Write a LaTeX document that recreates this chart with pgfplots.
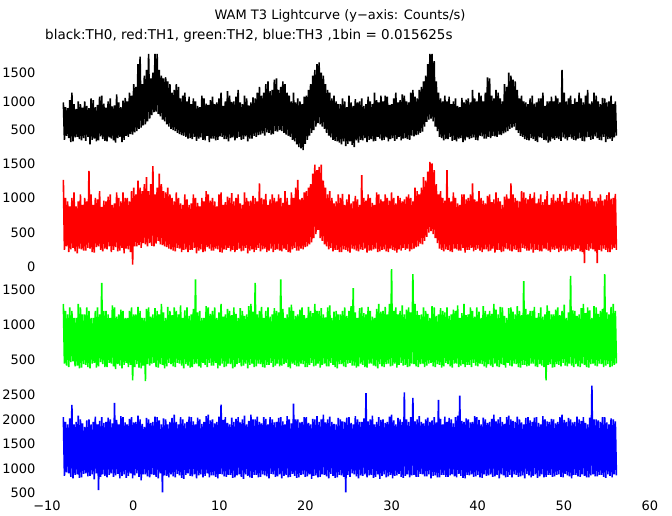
\documentclass[border=0pt]{standalone}
\usepackage{pgfplots}
\pgfplotsset{compat=1.18}
\usepackage{pgfplotstable}
\usepackage{fontspec}
\setmainfont{DejaVu Sans}
\definecolor{pred}{rgb}{1,0,0}
\definecolor{pgreen}{rgb}{0,1,0}
\definecolor{pblue}{rgb}{0,0,1}

% TH0 (black): alternating local maxima / minima, one value every 0.1237 s from -8.1 s
\pgfplotstableread[header=false,row sep=\\]{
980\\330\\900\\400\\880\\360\\1020\\290\\1150\\300\\950\\370\\870\\380\\1000\\340\\950\\320\\890\\360\\
1000\\310\\920\\380\\880\\250\\1050\\330\\1020\\350\\900\\300\\940\\320\\1080\\390\\1100\\340\\960\\310\\
890\\300\\1000\\370\\1050\\350\\910\\320\\930\\280\\1120\\360\\980\\380\\900\\290\\1010\\330\\1060\\400\\
1000\\380\\1150\\430\\1100\\420\\1300\\460\\1250\\480\\1650\\520\\1780\\540\\1300\\580\\1450\\600\\1550\\650\\
1830\\700\\1400\\760\\1500\\810\\1830\\820\\1830\\780\\1550\\740\\1450\\680\\1400\\650\\1420\\600\\1350\\560\\
1300\\520\\1150\\500\\1200\\480\\1300\\450\\1250\\430\\1050\\410\\1100\\400\\1150\\380\\1000\\350\\1080\\360\\
950\\340\\1050\\380\\1000\\310\\920\\350\\900\\370\\1100\\330\\1050\\320\\960\\400\\940\\290\\1020\\350\\
1080\\350\\950\\320\\980\\330\\1050\\390\\1150\\380\\920\\340\\1000\\340\\1180\\300\\1100\\360\\990\\370\\
1000\\320\\1080\\360\\1200\\380\\980\\330\\950\\340\\1100\\390\\1050\\300\\930\\350\\980\\350\\1070\\400\\
1050\\380\\1150\\410\\1250\\420\\1100\\440\\1150\\400\\1300\\460\\1350\\450\\1180\\420\\1200\\430\\1380\\480\\
1400\\470\\1200\\500\\1250\\480\\1350\\450\\1300\\420\\1150\\400\\1100\\380\\1000\\330\\1150\\300\\980\\250\\
1050\\200\\1000\\180\\950\\150\\1080\\260\\1100\\330\\1200\\400\\1300\\450\\1450\\500\\1550\\560\\1650\\620\\
1680\\600\\1500\\560\\1450\\520\\1300\\450\\1200\\400\\1150\\370\\1050\\330\\1100\\310\\1000\\300\\950\\280\\
950\\250\\1050\\300\\1000\\220\\900\\260\\1100\\300\\980\\240\\920\\200\\1040\\320\\980\\280\\1000\\330\\
1050\\320\\920\\360\\950\\290\\1080\\330\\1000\\340\\950\\300\\1150\\310\\1020\\380\\980\\350\\1100\\320\\
1000\\330\\1100\\370\\1080\\300\\940\\340\\950\\360\\1050\\310\\1150\\340\\980\\380\\1020\\320\\1120\\350\\
1100\\360\\1000\\340\\980\\330\\1150\\400\\1200\\390\\1080\\410\\1050\\420\\1200\\450\\1250\\470\\1350\\560\\
1450\\640\\1650\\680\\1830\\700\\1830\\650\\1700\\560\\1350\\480\\1150\\380\\1050\\360\\1000\\320\\1100\\340\\
1000\\340\\1080\\380\\950\\310\\1000\\330\\1050\\300\\920\\350\\900\\360\\1060\\290\\980\\320\\1030\\370\\
1050\\340\\980\\360\\1200\\370\\1050\\330\\1000\\320\\1150\\400\\1100\\390\\1000\\350\\1150\\350\\1420\\380\\
1400\\360\\1100\\400\\1050\\390\\1200\\380\\1150\\420\\1050\\410\\1000\\440\\1300\\460\\1250\\480\\1500\\520\\
1450\\540\\1380\\560\\1350\\500\\1200\\450\\1050\\400\\1100\\380\\1000\\340\\980\\330\\950\\320\\1050\\360\\
1100\\340\\960\\310\\980\\290\\1050\\370\\1050\\360\\1150\\330\\920\\320\\1000\\280\\1000\\300\\1080\\350\\
1000\\330\\1100\\360\\1050\\340\\980\\310\\1550\\370\\1150\\350\\1000\\320\\1050\\380\\1100\\350\\950\\330\\
1050\\320\\990\\350\\1150\\360\\1050\\310\\980\\300\\1100\\370\\1200\\380\\960\\330\\1000\\340\\1150\\390\\
1100\\360\\1000\\330\\950\\320\\1060\\380\\1050\\290\\980\\340\\1000\\350\\1100\\310\\950\\370\\1000\\400\\
}\tabA

% TH1 (red)
\pgfplotstableread[header=false,row sep=\\]{
1260\\250\\1000\\300\\950\\220\\880\\260\\1000\\280\\1080\\230\\880\\200\\950\\270\\1050\\260\\900\\240\\
1000\\240\\950\\280\\1390\\270\\1050\\220\\900\\210\\1000\\290\\980\\300\\1100\\250\\870\\230\\960\\270\\
950\\260\\1020\\300\\1050\\220\\900\\250\\920\\290\\1080\\230\\1000\\240\\950\\280\\1080\\200\\1000\\270\\
1000\\260\\950\\220\\1100\\40\\1150\\300\\1050\\300\\1250\\320\\1150\\280\\1100\\350\\1200\\330\\1300\\300\\
1100\\350\\1200\\310\\1460\\300\\1050\\340\\1150\\380\\1350\\330\\1200\\320\\1100\\300\\1080\\290\\1150\\270\\
1050\\260\\1000\\240\\950\\230\\1080\\280\\1000\\270\\920\\220\\900\\250\\1050\\260\\980\\220\\900\\250\\
920\\250\\1050\\280\\1000\\200\\930\\240\\880\\260\\1000\\220\\950\\230\\1100\\290\\1050\\270\\960\\240\\
1000\\240\\950\\270\\880\\260\\1050\\220\\1080\\210\\900\\260\\940\\250\\1020\\280\\1000\\230\\1070\\250\\
950\\220\\1000\\250\\1050\\270\\920\\230\\900\\240\\1080\\280\\1000\\200\\950\\240\\960\\260\\1030\\220\\
1000\\250\\950\\280\\1210\\230\\1000\\260\\980\\270\\1060\\220\\900\\240\\980\\270\\1050\\220\\1000\\250\\
950\\260\\1050\\240\\1000\\230\\930\\270\\1100\\250\\1000\\220\\900\\210\\1080\\260\\1000\\280\\1150\\240\\
1260\\240\\980\\270\\1000\\260\\1080\\290\\1100\\300\\1150\\330\\1200\\360\\1350\\420\\1480\\480\\1400\\540\\
1450\\420\\1480\\380\\1250\\330\\1150\\300\\1050\\260\\1100\\280\\1000\\230\\920\\250\\950\\250\\1050\\220\\
1000\\220\\1060\\260\\900\\250\\980\\230\\1050\\210\\920\\270\\950\\260\\1030\\240\\980\\230\\900\\260\\
1330\\250\\1000\\270\\960\\210\\1050\\240\\1000\\240\\930\\260\\900\\270\\1080\\220\\1050\\230\\980\\250\\
950\\260\\1050\\230\\1000\\220\\960\\270\\1080\\250\\1000\\240\\920\\210\\1030\\260\\1000\\240\\950\\280\\
980\\250\\1020\\270\\1050\\230\\1000\\260\\950\\270\\1150\\290\\1100\\300\\1050\\340\\1150\\330\\1300\\380\\
1250\\440\\1380\\500\\1520\\520\\1500\\480\\1400\\420\\1200\\350\\1050\\270\\1100\\250\\1000\\230\\960\\260\\
1400\\250\\1000\\230\\950\\220\\1080\\270\\1000\\260\\920\\240\\900\\240\\1050\\280\\1050\\210\\980\\250\\
1000\\250\\1050\\280\\1210\\230\\980\\250\\950\\270\\1100\\240\\1000\\220\\960\\260\\920\\260\\1030\\230\\
1050\\240\\940\\270\\980\\210\\1080\\250\\1000\\250\\950\\220\\900\\230\\1020\\270\\1050\\260\\990\\240\\
1210\\230\\1050\\260\\1000\\250\\960\\220\\950\\220\\1100\\280\\1080\\270\\1000\\240\\980\\240\\1060\\260\\
1000\\210\\1080\\250\\920\\250\\990\\230\\1050\\230\\940\\270\\980\\260\\1100\\240\\900\\220\\1000\\260\\
1050\\250\\960\\270\\1000\\220\\1060\\240\\950\\270\\1000\\230\\1100\\240\\930\\260\\980\\230\\1080\\250\\
1000\\250\\1050\\270\\950\\230\\1000\\220\\1050\\60\\980\\250\\980\\240\\1100\\270\\1000\\260\\950\\230\\
950\\60\\1000\\250\\1050\\230\\960\\270\\980\\250\\1040\\220\\1080\\220\\990\\260\\1000\\280\\1060\\250\\
}\tabB

% TH2 (green)
\pgfplotstableread[header=false,row sep=\\]{
1300\\450\\1200\\420\\1150\\400\\1250\\470\\1200\\480\\1100\\410\\1100\\420\\1300\\380\\1250\\390\\1150\\440\\
1150\\430\\1250\\400\\1200\\380\\1100\\450\\1100\\460\\1200\\390\\1250\\410\\1150\\470\\1600\\440\\1200\\400\\
1200\\400\\1150\\460\\1100\\450\\1280\\410\\1250\\370\\1120\\440\\1150\\420\\1220\\380\\1200\\430\\1100\\460\\
1100\\400\\1200\\430\\1250\\210\\1150\\400\\1150\\440\\1260\\390\\1200\\380\\1100\\420\\1100\\200\\1230\\440\\
1250\\420\\1120\\450\\1150\\460\\1240\\400\\1200\\390\\1150\\440\\1300\\430\\1180\\380\\1100\\410\\1260\\460\\
1200\\440\\1140\\410\\1250\\400\\1200\\460\\1150\\450\\1280\\420\\1100\\380\\1210\\440\\1250\\420\\1130\\390\\
1150\\400\\1230\\440\\1650\\450\\1180\\410\\1200\\390\\1100\\460\\1100\\430\\1270\\400\\1250\\460\\1160\\420\\
1200\\420\\1250\\460\\1100\\380\\1180\\420\\1300\\450\\1120\\400\\1150\\410\\1230\\450\\1200\\440\\1140\\380\\
1250\\400\\1160\\440\\1100\\460\\1240\\410\\1200\\420\\1130\\450\\1150\\380\\1270\\430\\1300\\450\\1190\\400\\
1600\\410\\1150\\450\\1200\\440\\1260\\400\\1100\\390\\1200\\430\\1250\\430\\1120\\460\\1150\\400\\1240\\420\\
1200\\450\\1180\\410\\1650\\420\\1230\\440\\1100\\460\\1150\\400\\1250\\380\\1290\\450\\1200\\430\\1130\\410\\
1150\\410\\1220\\450\\1250\\440\\1140\\400\\1100\\400\\1260\\430\\1200\\460\\1170\\410\\1300\\420\\1200\\450\\
1200\\390\\1240\\430\\1150\\450\\1110\\410\\1250\\410\\1280\\460\\1100\\430\\1190\\400\\1200\\380\\1150\\440\\
1150\\440\\1200\\410\\1250\\400\\1130\\450\\1200\\460\\1270\\420\\1525\\420\\1180\\390\\1100\\410\\1240\\450\\
1250\\430\\1170\\400\\1150\\390\\1260\\450\\1200\\450\\1120\\420\\1100\\410\\1230\\380\\1300\\440\\1190\\410\\
1200\\400\\1260\\440\\1150\\450\\1300\\410\\1800\\420\\1200\\450\\1250\\390\\1150\\430\\1200\\460\\1280\\420\\
1150\\430\\1220\\400\\1250\\410\\1180\\450\\1727\\440\\1300\\410\\1200\\400\\1140\\440\\1150\\450\\1250\\400\\
1200\\420\\1160\\450\\1100\\460\\1270\\410\\1250\\400\\1130\\440\\1150\\430\\1240\\390\\1200\\410\\1180\\460\\
1250\\440\\1130\\410\\1150\\390\\1220\\450\\1200\\450\\1280\\400\\1100\\420\\1170\\440\\1300\\400\\1140\\430\\
1150\\430\\1250\\400\\1200\\460\\1120\\420\\1250\\410\\1190\\450\\1100\\440\\1270\\410\\1200\\390\\1150\\440\\
1200\\420\\1160\\400\\1300\\450\\1220\\410\\1150\\400\\1260\\440\\1250\\430\\1130\\390\\1100\\460\\1240\\420\\
1250\\410\\1190\\450\\1150\\440\\1270\\400\\1200\\390\\1140\\430\\1626\\430\\1230\\410\\1150\\420\\1200\\450\\
1200\\450\\1260\\410\\1100\\400\\1170\\440\\1250\\420\\1120\\400\\1150\\210\\1280\\430\\1200\\440\\1150\\390\\
1150\\400\\1220\\440\\1250\\430\\1140\\410\\1200\\460\\1290\\420\\1100\\410\\1180\\450\\1700\\420\\1210\\400\\
1200\\440\\1130\\410\\1150\\400\\1240\\450\\1300\\430\\1170\\400\\1250\\390\\1210\\440\\1100\\450\\1270\\420\\
1250\\410\\1160\\450\\1200\\440\\1230\\400\\1727\\420\\1180\\440\\1150\\400\\1260\\410\\1300\\430\\1200\\450\\
}\tabC

% TH3 (blue)
\pgfplotstableread[header=false,row sep=\\]{
2050\\850\\1950\\920\\1900\\900\\2020\\830\\2300\\800\\1900\\870\\1950\\880\\2080\\810\\2000\\820\\1920\\890\\
1850\\900\\1980\\840\\2000\\850\\1900\\880\\1950\\780\\2060\\900\\1900\\560\\1970\\830\\2050\\880\\1930\\850\\
1950\\820\\2040\\870\\2000\\900\\1920\\830\\2338\\860\\1990\\890\\1900\\800\\2070\\850\\2050\\880\\1940\\810\\
1900\\850\\2010\\900\\2050\\800\\1940\\860\\1950\\900\\2080\\830\\2000\\760\\1910\\880\\1850\\880\\2030\\840\\
2000\\820\\1930\\880\\1950\\870\\2060\\830\\2050\\800\\1980\\900\\1900\\514\\2020\\860\\2000\\850\\1900\\820\\
1950\\880\\2030\\840\\2100\\820\\1950\\890\\1900\\860\\2050\\810\\2000\\790\\1920\\870\\1950\\900\\2060\\850\\
2050\\840\\1960\\880\\1900\\800\\2040\\860\\2000\\880\\1910\\820\\1950\\850\\2070\\900\\2100\\820\\1980\\860\\
2000\\860\\1920\\830\\1950\\800\\2060\\890\\2304\\880\\1990\\840\\2050\\830\\1930\\870\\1900\\870\\2040\\810\\
1950\\820\\2010\\860\\2050\\880\\1940\\830\\2000\\790\\2080\\880\\1900\\850\\1970\\820\\2100\\810\\2000\\870\\
2000\\870\\2060\\820\\1950\\830\\1920\\880\\2050\\860\\2010\\840\\1900\\800\\2050\\890\\2000\\880\\1940\\830\\
1950\\840\\2030\\880\\2050\\800\\1960\\850\\1900\\870\\2070\\820\\2000\\830\\1920\\890\\2324\\850\\2000\\810\\
2000\\820\\1940\\870\\1950\\880\\2050\\830\\2050\\840\\1930\\880\\1900\\790\\2010\\850\\2000\\860\\2070\\820\\
1950\\830\\2000\\880\\2100\\870\\1940\\840\\2000\\800\\2060\\890\\1950\\850\\1910\\810\\1900\\820\\2030\\870\\
2000\\860\\1960\\830\\1950\\514\\2040\\870\\2050\\830\\1930\\900\\1900\\880\\2070\\840\\2000\\800\\1950\\860\\
1950\\850\\2020\\880\\2540\\820\\1960\\860\\2000\\870\\2080\\810\\1900\\830\\1950\\880\\2050\\790\\1990\\850\\
2000\\880\\1930\\820\\1950\\840\\2060\\870\\2100\\800\\1980\\850\\1900\\860\\2030\\890\\2000\\830\\1950\\810\\
2554\\850\\2000\\880\\1950\\820\\2050\\860\\2439\\870\\1960\\830\\2000\\830\\2070\\890\\1950\\880\\1920\\840\\
2000\\840\\2040\\880\\1950\\800\\1980\\850\\2050\\860\\1940\\820\\2400\\820\\2010\\870\\1900\\870\\2060\\830\\
1950\\830\\2030\\860\\2000\\880\\1920\\840\\2050\\820\\2080\\890\\2486\\850\\1970\\810\\1950\\800\\2020\\870\\
2000\\860\\1940\\880\\1950\\830\\2070\\840\\2050\\870\\1990\\820\\1900\\810\\2040\\880\\2000\\850\\1930\\860\\
1950\\880\\2010\\830\\2100\\840\\1960\\870\\2000\\800\\2050\\880\\1950\\860\\1910\\820\\2050\\830\\2080\\870\\
2000\\820\\1970\\880\\1950\\870\\2060\\830\\2000\\840\\1940\\860\\1900\\800\\2030\\890\\2050\\860\\1980\\820\\
1950\\850\\2040\\880\\2050\\810\\1930\\840\\1900\\880\\2070\\820\\2000\\830\\1960\\870\\1950\\870\\2010\\830\\
2000\\840\\1920\\870\\1950\\880\\2050\\830\\2100\\820\\1990\\890\\1950\\860\\2030\\840\\2000\\800\\1940\\870\\
1950\\870\\2060\\840\\2000\\830\\1970\\880\\2050\\850\\1930\\820\\1900\\820\\2040\\860\\2689\\880\\2000\\840\\
2000\\840\\1980\\870\\1950\\870\\2050\\830\\2050\\810\\1940\\880\\1900\\850\\2020\\820\\2000\\880\\1960\\860\\
}\tabD

\pgfplotsset{lc/.style={
  scale only axis, width=603pt, xmin=-10, xmax=60,
  axis line style={draw=none}, tick style={draw=none},
  xtick=\empty, ytick pos=left,
  ticklabel style={font=\fontsize{13}{15}\selectfont},
  yticklabel style={xshift=-8pt},
  anchor=south west, clip=true}}
\tikzset{lc line/.style={line width=1.6pt, line join=bevel}}

\begin{document}
\begin{tikzpicture}[x=1pt,y=1pt]
\useasboundingbox (0,0) rectangle (672,515);

\begin{axis}[lc, at={(47pt,356pt)}, height=105pt, ymin=-6, ymax=1826,
  ytick={500,1000,1500}, yticklabels={500,1000,1500}]
\addplot[black, lc line] table[x expr={-8.1+\coordindex*0.1237}, y index=0] {\tabA};
\end{axis}

\begin{axis}[lc, at={(47pt,246pt)}, height=110pt, ymin=-25, ymax=1562,
  ytick={0,500,1000,1500}, yticklabels={0,500,1000,1500}]
\addplot[pred, lc line] table[x expr={-8.1+\coordindex*0.1237}, y index=0] {\tabB};
\end{axis}

\begin{axis}[lc, at={(47pt,131pt)}, height=115pt, ymin=157, ymax=1800,
  ytick={500,1000,1500}, yticklabels={500,1000,1500}]
\addplot[pgreen, lc line] table[x expr={-8.1+\coordindex*0.1237}, y index=0] {\tabC};
\end{axis}

\begin{axis}[lc, at={(47pt,18pt)}, height=113pt, ymin=418, ymax=2724,
  ytick={500,1000,1500,2000,2500}, yticklabels={500,1000,1500,2000,2500},
  xtick={-10,0,10,20,30,40,50,60},
  xticklabels={−10,0,10,20,30,40,50,60}]
\addplot[pblue, lc line] table[x expr={-8.1+\coordindex*0.1237}, y index=0] {\tabD};
\end{axis}

\node[font=\fontsize{13}{15}\selectfont] at (340,499) {WAM T3 Lightcurve (y−axis: Counts/s)};
\node[font=\fontsize{13.5}{15}\selectfont, anchor=west, inner sep=0pt] at (45,479) {black:TH0, red:TH1, green:TH2, blue:TH3 ,1bin = 0.015625s};
\end{tikzpicture}
\end{document}
